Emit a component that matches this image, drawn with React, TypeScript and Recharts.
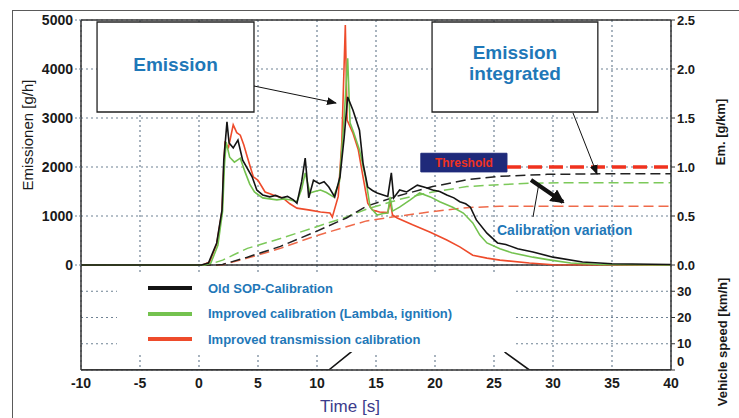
import React from "react";
import {
  CartesianGrid,
  ComposedChart,
  Legend,
  Line,
  ReferenceArea,
  ReferenceLine,
  XAxis,
  YAxis,
} from "recharts";

// tick labels
const timeTicks = [-10, -5, 0, 5, 10, 15, 20, 25, 30, 35, 40];
const emTicks = [0, 1000, 2000, 3000, 4000, 5000];
const gkmTicks = [0, 0.5, 1, 1.5, 2, 2.5];
const speedTicks = [0, 10, 20, 30];
const speedGrid = [10, 20, 30];

// [time s, emission g/h]
const oldSop = [
  [-10, 0], [0.2, 0], [0.8, 40], [1.5, 450], [1.95, 1120], [2.1, 2140], [2.37, 2920],
  [2.55, 2490], [2.9, 2390], [3.3, 2550], [3.7, 2140], [4.5, 1800], [4.9, 1530],
  [5.4, 1430], [6.0, 1390], [6.5, 1420], [7.0, 1370], [7.5, 1400], [8.0, 1330],
  [8.3, 1260], [8.7, 1700], [9.0, 2180], [9.3, 1370], [9.7, 1730], [10.2, 1660],
  [10.6, 1700], [11.0, 1590], [11.5, 1390], [11.95, 1800], [12.3, 2600], [12.6, 3430],
  [13.05, 3160], [13.6, 2750], [13.9, 2080], [14.3, 1590], [14.7, 1520], [15.1, 1470],
  [15.6, 1430], [16.0, 1400], [16.3, 1880], [16.5, 1370], [17.0, 1530], [17.6, 1490],
  [18.5, 1630], [19.2, 1580], [19.8, 1530], [20.4, 1500], [21.0, 1430], [21.6, 1370],
  [22.1, 1290], [22.6, 1250], [23.0, 1180], [23.5, 920], [24.4, 650], [25.3, 450],
  [26.0, 420], [27.0, 330], [28.3, 265], [30.0, 160], [32.5, 60], [35, 25], [40, 10],
];

const improvedLambda = [
  [-10, 0], [0.5, 0], [1.0, 40], [1.6, 400], [2.0, 1100], [2.15, 2000], [2.3, 2510],
  [2.6, 2200], [3.0, 2100], [3.5, 2180], [3.9, 1900], [4.3, 1650], [4.7, 1490],
  [5.4, 1370], [6.0, 1350], [6.6, 1330], [7.2, 1350], [7.7, 1330], [8.3, 1290],
  [8.7, 1550], [9.0, 1880], [9.4, 1470], [9.8, 1500], [10.3, 1530], [10.8, 1480],
  [11.4, 1390], [11.9, 1700], [12.3, 3000], [12.6, 4220], [12.8, 2900], [13.1, 2710],
  [13.6, 2350], [14.1, 1800], [14.5, 1180], [15.1, 1020], [15.6, 1050], [16.0, 1060],
  [16.2, 1390], [16.4, 1100], [17.0, 1180], [17.9, 1330], [18.7, 1470], [19.6, 1390],
  [20.4, 1290], [21.5, 1180], [22.4, 1060], [23.2, 860], [23.8, 610], [24.4, 450],
  [25.5, 330], [26.5, 250], [28.3, 160], [29.8, 100], [31.5, 40], [34, 10], [40, 0],
];

const improvedTransmission = [
  [-10, 0], [0.3, 0], [0.9, 60], [1.5, 430], [1.95, 1100], [2.1, 2000], [2.2, 2490],
  [2.5, 2400], [2.9, 2860], [3.2, 2700], [3.5, 2650], [3.8, 2450], [4.1, 2200],
  [4.6, 1800], [5.0, 1730], [5.6, 1490], [6.3, 1430], [7.1, 1370], [7.7, 1250],
  [8.3, 1160], [9.4, 1120], [10.3, 1080], [11.1, 1060], [11.3, 980], [11.8, 1400],
  [12.1, 2500], [12.4, 4900], [12.55, 2960], [13.05, 2690], [13.5, 2350], [13.9, 1800],
  [14.3, 1260], [14.7, 1120], [15.3, 1080], [16.0, 1070], [16.2, 1300], [16.4, 1020],
  [16.8, 960], [18.1, 820], [19.6, 670], [21.0, 510], [22.1, 370], [23.2, 200],
  [24.4, 140], [25.5, 100], [28.0, 40], [30.0, 5], [40, 0],
];

// [time s, integrated emission g/km]
const oldSopInt = [
  [-10, 0], [1.5, 0], [2.0, 0.005], [4.1, 0.08], [6.9, 0.19], [9.7, 0.33], [12.5, 0.48],
  [14.2, 0.6], [17, 0.71], [19.8, 0.8], [22.7, 0.87], [25.5, 0.905], [29.5, 0.925],
  [34, 0.93], [40, 0.93],
];
const improvedLambdaInt = [
  [-10, 0], [0.5, 0], [1.0, 0.01], [2.0, 0.05], [4.1, 0.17], [6.9, 0.27], [9.7, 0.38],
  [12.5, 0.49], [14.2, 0.57], [17, 0.67], [19.8, 0.745], [22.7, 0.8], [25.5, 0.82],
  [28.3, 0.835], [31, 0.84], [40, 0.84],
];
const improvedTransmissionInt = [
  [-10, 0], [1.5, 0], [2.0, 0.003], [4.1, 0.07], [6.9, 0.17], [9.7, 0.29], [12.5, 0.39],
  [14.2, 0.45], [17, 0.5], [19.8, 0.545], [22.7, 0.585], [25.5, 0.6], [40, 0.6],
];

// [time s, km/h]
const vehicleSpeed = [
  [-10, 0], [11, 0], [12.8, 6.5], [15, 15], [18, 24], [21, 26], [24, 16], [26, 6.5],
  [28, 0], [40, 0],
];

const threshold = 1.0;
const thresholdFrom = 26.1;

const pts = (a: number[][]) => a.map(([t, v]) => ({ t, v }));

const BLACK = "#141414";
const GREEN = "#74c24f";
const RED = "#ee4b2b";
const BLUE = "#1f78b8";
const GRID = "#6f8294";
const FONT = "'Liberation Sans', Arial, sans-serif";

const legendItems = [
  { name: "Old SOP-Calibration", color: BLACK },
  { name: "Improved calibration (Lambda, ignition)", color: GREEN },
  { name: "Improved transmission calibration", color: RED },
];

// the lower panel takes 105 of the 350 px plot height
const emLo = -5000 * (105 / 245);
const gkmLo = -2.5 * (105 / 245);
const spdHi = 40 * (350 / 105);
const rightTicks = [...speedTicks.map((s) => gkmLo + (s / 40) * -gkmLo), ...gkmTicks];

const tickStyle = { fontFamily: FONT, fontSize: 14, fontWeight: 700, fill: "#1a1a1a" };

const RightTick = (props: any) => {
  const { x, y, payload } = props;
  const v = payload.value;
  let label = v.toFixed(1);
  let dy = 4.5;
  if (v < -1e-6) {
    const s = Math.round(((v - gkmLo) / -gkmLo) * 40);
    label = String(s);
    if (s === 0) dy = -4;
  }
  return (
    <text x={x} y={y + dy} textAnchor="start" {...tickStyle} fontSize={13}>
      {label}
    </text>
  );
};

const boxLabel = (lines: string[], first: number, step: number) => (props: any) => {
  const vb = props.viewBox;
  const cx = vb.x + vb.width / 2;
  return (
    <text
      textAnchor="middle"
      fontFamily={FONT}
      fontSize={19}
      fontWeight={700}
      fill={BLUE}
    >
      {lines.map((l, i) => (
        <tspan key={i} x={cx} y={vb.y + first + i * step}>
          {l}
        </tspan>
      ))}
    </text>
  );
};

const thresholdLabel = (props: any) => {
  const vb = props.viewBox;
  return (
    <text
      x={vb.x + vb.width / 2}
      y={vb.y + vb.height / 2 + 4.5}
      textAnchor="middle"
      fontFamily={FONT}
      fontSize={12}
      fontWeight={700}
      fill="#f0321e"
    >
      Threshold
    </text>
  );
};

const renderLegend = () => (
  <div style={{ position: "relative", width: "100%", height: "100%", background: "#fff" }}>
    {legendItems.map((it, i) => (
      <div
        key={it.name}
        style={{
          position: "absolute",
          left: 31,
          top: 6 + i * 25.5,
          height: 20,
          display: "flex",
          alignItems: "center",
          whiteSpace: "nowrap",
        }}
      >
        <span style={{ width: 44, height: 4, background: it.color, display: "inline-block" }} />
        <span
          style={{
            marginLeft: 16,
            fontFamily: FONT,
            fontSize: 13,
            fontWeight: 700,
            color: BLUE,
          }}
        >
          {it.name}
        </span>
      </div>
    ))}
  </div>
);

export default function App() {
  return (
    <div
      style={{
        position: "absolute",
        left: 0,
        top: 0,
        width: 739,
        height: 418,
        overflow: "hidden",
        background: "#fff",
      }}
    >
      <div
        style={{
          position: "absolute",
          left: 12,
          top: 10,
          width: 800,
          height: 500,
          border: "1px solid #5a5a5a",
        }}
      />
      <div style={{ position: "absolute", left: 0, top: 0 }}>
        <ComposedChart width={739} height={418} margin={{ top: 20, right: 20, bottom: 18, left: 20 }}>
          <CartesianGrid yAxisId="em" stroke={GRID} strokeDasharray="2 3" strokeWidth={1.2} />
          <XAxis
            type="number"
            dataKey="t"
            domain={[-10, 40]}
            ticks={timeTicks}
            allowDataOverflow
            height={30}
            tick={tickStyle}
            tickLine={false}
            axisLine={{ stroke: "#333", strokeWidth: 1.5 }}
          />
          <YAxis
            yAxisId="em"
            orientation="left"
            domain={[emLo, 5000]}
            ticks={emTicks}
            allowDataOverflow
            width={61}
            tick={tickStyle}
            tickLine={{ stroke: GRID, strokeDasharray: "2 2" }}
            axisLine={{ stroke: "#333", strokeWidth: 1.5 }}
          />
          <YAxis
            yAxisId="gkm"
            orientation="right"
            domain={[gkmLo, 2.5]}
            ticks={rightTicks}
            allowDataOverflow
            width={48}
            tick={<RightTick />}
            tickSize={4}
            tickLine={{ stroke: "#333" }}
            axisLine={{ stroke: "#333", strokeWidth: 1.5 }}
          />
          <YAxis yAxisId="spd" hide domain={[0, spdHi]} allowDataOverflow />

          {speedGrid.map((s) => (
            <ReferenceLine key={s} yAxisId="spd" y={s} stroke={GRID} strokeDasharray="2 3" strokeWidth={1.2} />
          ))}
          <ReferenceLine yAxisId="em" y={0} stroke="#333" strokeWidth={1.5} />
          <ReferenceLine yAxisId="em" y={5000} stroke="#333" strokeWidth={1.5} />

          <ReferenceArea
            yAxisId="em"
            x1={-8.64}
            x2={4.66}
            y1={3122}
            y2={4959}
            fill="#fff"
            fillOpacity={1}
            stroke="#222"
            strokeWidth={1.3}
            label={boxLabel(["Emission"], 49, 0)}
          />
          <ReferenceArea
            yAxisId="em"
            x1={19.75}
            x2={33.8}
            y1={3122}
            y2={4959}
            fill="#fff"
            fillOpacity={1}
            stroke="#222"
            strokeWidth={1.3}
            label={boxLabel(["Emission", "integrated"], 37, 21)}
          />
          <ReferenceArea
            yAxisId="gkm"
            x1={18.8}
            x2={26.1}
            y1={0.95}
            y2={1.14}
            fill="#1f2a7a"
            fillOpacity={1}
            stroke="#1f2a7a"
            label={thresholdLabel}
          />
          <ReferenceLine
            yAxisId="gkm"
            segment={[
              { x: thresholdFrom, y: threshold },
              { x: 40, y: threshold },
            ]}
            stroke="#f0321e"
            strokeWidth={3.5}
            strokeDasharray="14 7"
          />

          <Line yAxisId="spd" data={pts(vehicleSpeed)} dataKey="v" stroke={BLACK} strokeWidth={1.6} dot={false} isAnimationActive={false} legendType="none" />

          <Line yAxisId="gkm" data={pts(improvedTransmissionInt)} dataKey="v" stroke="#ef6a4a" strokeWidth={1.5} strokeDasharray="10 5" dot={false} isAnimationActive={false} legendType="none" />
          <Line yAxisId="gkm" data={pts(improvedLambdaInt)} dataKey="v" stroke="#7cc95a" strokeWidth={1.5} strokeDasharray="10 5" dot={false} isAnimationActive={false} legendType="none" />
          <Line yAxisId="gkm" data={pts(oldSopInt)} dataKey="v" stroke="#222" strokeWidth={1.5} strokeDasharray="10 5" dot={false} isAnimationActive={false} legendType="none" />

          <Line yAxisId="em" data={pts(improvedTransmission)} dataKey="v" name={legendItems[2].name} stroke={RED} strokeWidth={1.6} dot={false} isAnimationActive={false} />
          <Line yAxisId="em" data={pts(improvedLambda)} dataKey="v" name={legendItems[1].name} stroke={GREEN} strokeWidth={1.6} dot={false} isAnimationActive={false} />
          <Line yAxisId="em" data={pts(oldSop)} dataKey="v" name={legendItems[0].name} stroke={BLACK} strokeWidth={1.6} dot={false} isAnimationActive={false} />

          <Legend
            layout="horizontal"
            verticalAlign="middle"
            align="center"
            content={renderLegend}
            wrapperStyle={{ left: 117, top: 272, width: 396, height: 80 }}
          />
        </ComposedChart>
      </div>

      <svg
        width={739}
        height={418}
        style={{ position: "absolute", left: 0, top: 0, pointerEvents: "none" }}
      >
        <defs>
          <marker id="thin" markerUnits="userSpaceOnUse" markerWidth={10} markerHeight={8} refX={9} refY={4} orient="auto">
            <path d="M0,0 L10,4 L0,8 z" fill="#111" />
          </marker>
          <marker id="thick" markerUnits="userSpaceOnUse" markerWidth={14} markerHeight={14} refX={12} refY={7} orient="auto">
            <path d="M0,0 L14,7 L0,14 z" fill="#111" />
          </marker>
        </defs>
        <line x1={254} y1={86} x2={336} y2={103} stroke="#111" strokeWidth={1} markerEnd="url(#thin)" />
        <line x1={573} y1={113} x2={597} y2={174} stroke="#111" strokeWidth={1} markerEnd="url(#thin)" />
        <line x1={531} y1={180} x2={563} y2={202} stroke="#111" strokeWidth={4} markerEnd="url(#thick)" />
        <line x1={533} y1={217} x2={539} y2={183} stroke="#111" strokeWidth={1} />
        <text x={497} y={235} fontFamily={FONT} fontSize={14} fontWeight={700} fill={BLUE}>
          Calibration variation
        </text>
        <text
          transform="translate(33,135) rotate(-90)"
          textAnchor="middle"
          fontFamily={FONT}
          fontSize={15}
          fill="#1a1a1a"
        >
          Emissionen [g/h]
        </text>
        <text
          transform="translate(725,132) rotate(-90)"
          textAnchor="middle"
          fontFamily={FONT}
          fontSize={13}
          fontWeight={700}
          fill="#1a1a1a"
        >
          Em. [g/km]
        </text>
        <text
          transform="translate(727,342) rotate(-90)"
          textAnchor="middle"
          fontFamily={FONT}
          fontSize={13}
          fontWeight={700}
          fill="#1a1a1a"
        >
          Vehicle speed [km/h]
        </text>
        <text
          x={350}
          y={412}
          textAnchor="middle"
          fontFamily="'Liberation Sans Narrow', 'Liberation Sans', Arial, sans-serif"
          fontSize={17}
          fill="#3c3c8c"
        >
          Time [s]
        </text>
      </svg>
    </div>
  );
}
